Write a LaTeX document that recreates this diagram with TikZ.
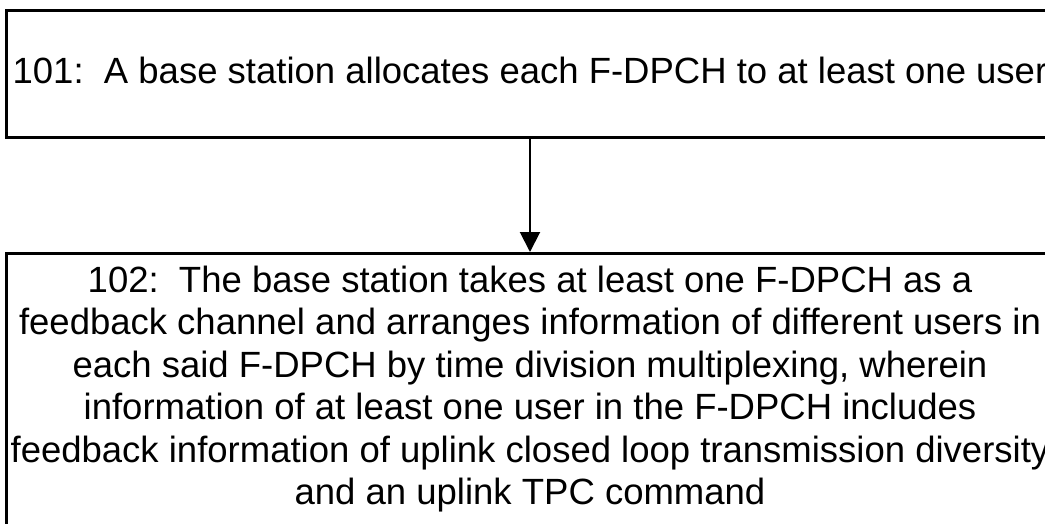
\documentclass[tikz,border=0pt]{standalone}
\usepackage{fontspec}
\setmainfont{Liberation Sans}
\usetikzlibrary{arrows.meta}
\begin{document}
\begin{tikzpicture}[x=1pt,y=-1pt,
  stepbox/.style={draw=black, line width=3pt, rectangle, inner sep=0pt},
  steptext/.style={font=\fontsize{36.5}{42.4}\selectfont, align=center, inner sep=0pt},
  flow/.style={draw=black, line width=2pt, -{Triangle[width=20pt,length=20pt]}}]
  \useasboundingbox (0,0) rectangle (1045,523);
  \clip (0,0) rectangle (1045,523);
  % first step
  \node[stepbox, steptext, minimum width=1048pt, minimum height=127pt,
        text height=26pt, text depth=6pt] (s1) at (530,73.5)
    {101:\ \ A base station allocates each F-DPCH to at least one user};
  % second step: frame and its text
  \node[stepbox, minimum width=1048pt, minimum height=300pt, anchor=north] (s2) at (530,252) {};
  \node[steptext] (t2) at (530,389)
    {102:\ \ The base station takes at least one F-DPCH as a\\
     feedback channel and arranges information of different users in\hspace{12pt}\\
     each said F-DPCH by time division multiplexing, wherein\hspace{14pt}\\
     information of at least one user in the F-DPCH includes\\
     feedback information of uplink closed loop transmission diversity\hspace{12pt}\\
     and an uplink TPC command};
  % connector
  \draw[flow] (s1.south) -- (s2.north);
\end{tikzpicture}
\end{document}
